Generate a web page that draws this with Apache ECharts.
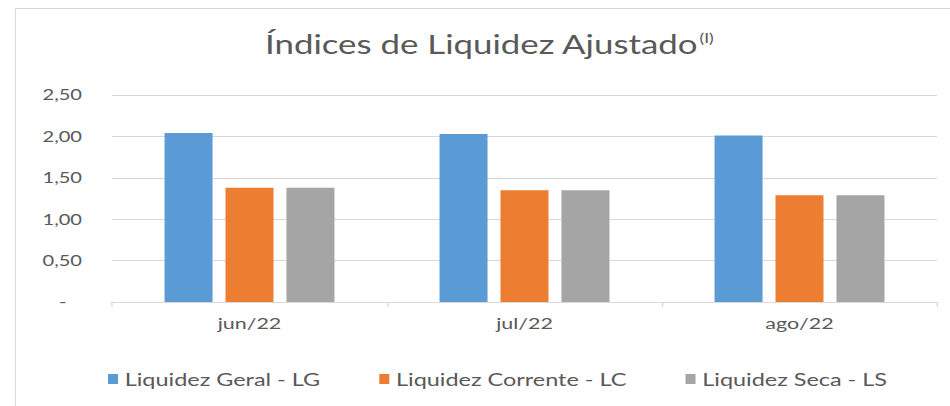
<!DOCTYPE html>
<html>
<head>
<meta charset="utf-8">
<script src="https://cdn.jsdelivr.net/npm/echarts@6/dist/echarts.min.js"></script>
<style>
html,body{margin:0;padding:0;background:#fff;overflow:hidden;}
#wrap{position:relative;width:950px;height:406px;overflow:hidden;}
#frame{position:absolute;left:15px;top:8px;width:1000px;height:500px;border-left:1px solid #d9d9d9;border-top:1px solid #d9d9d9;}
#chart{position:absolute;left:0;top:0;width:709px;height:406px;transform:scaleX(1.33992);transform-origin:0 0;}
</style>
</head>
<body>
<div id="wrap"><div id="frame"></div><div id="chart"></div></div>
<script>
const categories = ['jun/22', 'jul/22', 'ago/22'];
const seriesNames = ['Liquidez Geral - LG', 'Liquidez Corrente - LC', 'Liquidez Seca - LS'];
const liquidezGeral = [2.04, 2.03, 2.01];
const liquidezCorrente = [1.38, 1.35, 1.29];
const liquidezSeca = [1.38, 1.35, 1.29];
const yTicks = [0, 0.5, 1, 1.5, 2, 2.5];
const colors = ['#5b9bd5', '#ed7d31', '#a5a5a5'];
const FONT = 'Lato';
const W = 709;
const S = 950 / W; // horizontal stretch of the reference picture

const chart = echarts.init(document.getElementById('chart'), null, { renderer: 'svg' });
const values = [liquidezGeral, liquidezCorrente, liquidezSeca];
chart.setOption({
  animation: false,
  textStyle: { fontFamily: FONT },
  title: {
    text: '{t|Índices de Liquidez Ajustado}{s|(I)}',
    left: 489 / S, top: 31, textAlign: 'center', padding: 0,
    textStyle: {
      rich: {
        t: { fontFamily: FONT, fontSize: 26, fontWeight: 'normal', color: '#595959' },
        s: { fontFamily: FONT, fontSize: 13, fontWeight: 'normal', color: '#595959', padding: [0, 0, 13, 1] }
      }
    }
  },
  legend: {
    top: 370, left: 108 / S, padding: 0,
    itemWidth: 10 / S, itemHeight: 10, itemGap: 44,
    icon: 'rect',
    textStyle: { fontFamily: FONT, fontSize: 17.5, color: '#595959' },
    data: seriesNames
  },
  grid: { left: 112 / S, right: 13 / S, top: 95, bottom: 104 },
  xAxis: {
    type: 'category', data: categories,
    axisLine: { lineStyle: { color: '#d9d9d9' } },
    axisTick: { show: true, length: 5, lineStyle: { color: '#d9d9d9' } },
    axisLabel: { fontFamily: FONT, fontSize: 16, color: '#595959', margin: 13 }
  },
  yAxis: {
    type: 'value', min: yTicks[0], max: yTicks[yTicks.length - 1], interval: yTicks[1] - yTicks[0],
    axisLine: { show: false }, axisTick: { show: false },
    splitLine: { lineStyle: { color: '#d9d9d9' } },
    axisLabel: {
      fontFamily: FONT, fontSize: 15, color: '#595959', margin: 30 / S,
      formatter: v => v === 0 ? '-   ' : v.toFixed(2).replace('.', ',')
    }
  },
  series: seriesNames.map((n, i) => ({
    name: n, type: 'bar', data: values[i],
    barWidth: 48 / S, barGap: '27%',
    itemStyle: { color: colors[i] }
  }))
});
</script>
</body>
</html>
